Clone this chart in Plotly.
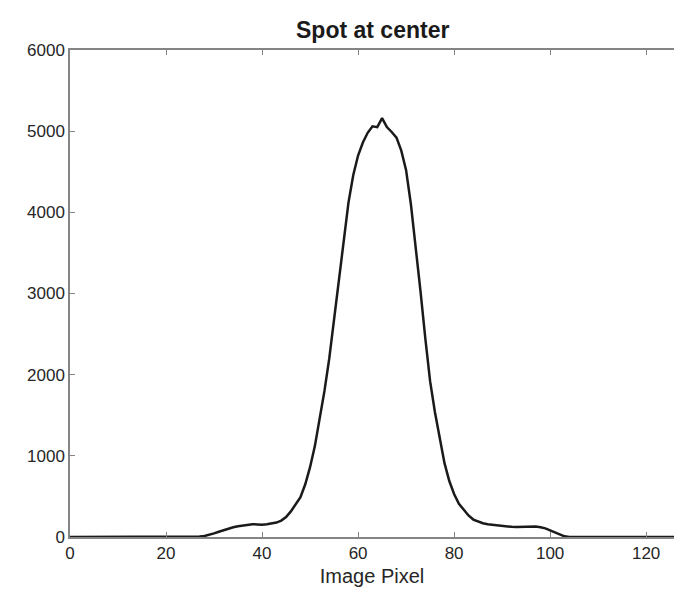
import plotly.graph_objects as go

# Image pixel index and intensity profile
pixels = list(range(0, 128))
intensity = (
    [0] * 25 +
    [0, 2, 5, 12, 25, 45, 65, 85, 105, 120,          # 25-34
     133, 140, 150, 158, 155, 150, 158, 168, 178, 202,  # 35-44
     245, 315, 400, 490, 650, 860, 1120, 1440, 1800, 2200,  # 45-54
     2680, 3180, 3680, 4120, 4460, 4700, 4860, 4980, 5060, 5050,  # 55-64
     5160, 5050, 4990, 4920, 4760, 4520, 4100, 3580, 3030, 2450,  # 65-74
     1920, 1540, 1200, 910, 690, 530, 410, 330, 265, 215,  # 75-84
     188, 170, 158, 150, 142, 135, 128, 125, 123, 125,  # 85-94
     128, 132, 128, 120, 106, 82, 55, 28, 8, 0] +     # 95-104
    [0] * 23
)

x_ticks = [0, 20, 40, 60, 80, 100, 120]
y_ticks = [0, 1000, 2000, 3000, 4000, 5000, 6000]

FONT = "Liberation Sans"
AXIS_COLOR = "#858585"
TEXT_COLOR = "#262626"

fig = go.Figure()
fig.add_trace(go.Scatter(
    x=pixels, y=intensity, mode="lines",
    line=dict(color="#1a1a1a", width=2.5),
    showlegend=False,
))

fig.update_layout(
    width=674, height=592,
    margin=dict(l=70, r=0, t=50, b=55),
    paper_bgcolor="white", plot_bgcolor="white",
    title=dict(text="<b>Spot at center</b>", x=0.553, xanchor="center",
               y=1 - 30 / 592, yanchor="middle",
               font=dict(family=FONT, size=23, color="#1a1a1a")),
    font=dict(family=FONT, color=TEXT_COLOR),
)

fig.update_xaxes(
    range=[0, 125.8], tickvals=x_ticks, ticktext=[str(v) for v in x_ticks],
    showgrid=False, zeroline=False,
    showline=True, linecolor=AXIS_COLOR, linewidth=1.5, mirror="ticks",
    ticks="inside", ticklen=5, tickcolor=AXIS_COLOR, tickwidth=1,
    tickfont=dict(family=FONT, size=17, color=TEXT_COLOR),
    title=dict(text="Image Pixel", font=dict(family=FONT, size=20, color=TEXT_COLOR), standoff=7),
    automargin=False,
)
fig.update_yaxes(
    range=[0, 6000], tickvals=y_ticks, ticktext=[str(v) for v in y_ticks],
    showgrid=False, zeroline=False,
    showline=True, linecolor=AXIS_COLOR, linewidth=1.5, mirror=False,
    ticks="inside", ticklen=5, tickcolor=AXIS_COLOR, tickwidth=1,
    tickfont=dict(family=FONT, size=17, color=TEXT_COLOR),
    automargin=False,
)

fig.write_html("out.html")
